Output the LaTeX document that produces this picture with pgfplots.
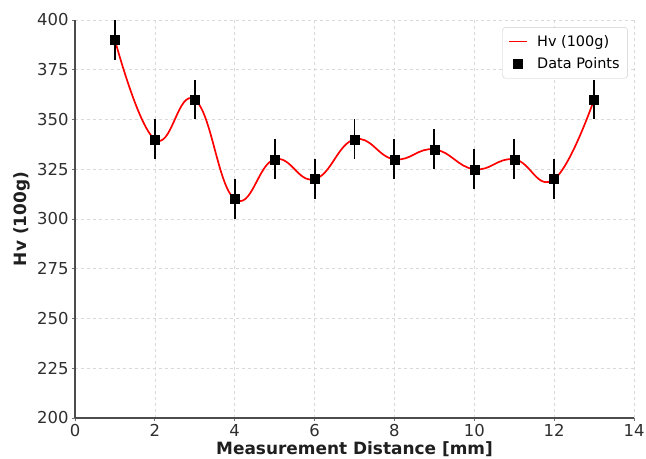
\documentclass[border=0pt]{standalone}
\usepackage{pgfplots}
\pgfplotsset{compat=1.18}
\usepackage{pgfplotstable}
\usepackage{fontspec}
\setmainfont{DejaVu Sans}

\pgfplotstableread{
x  y   err
1  390 10
2  340 10
3  360 10
4  310 10
5  330 10
6  320 10
7  340 10
8  330 10
9  335 10
10 325 10
11 330 10
12 320 10
13 360 10
}\hvdata

\begin{document}
\begin{tikzpicture}
\begin{axis}[
  scale only axis,
  width=559bp, height=398bp,
  xmin=0, xmax=14, ymin=200, ymax=400,
  xtick={0,2,...,14}, ytick={200,225,...,400},
  axis lines=left,
  axis line style={-, draw=black!70, line width=1.3pt},
  tick style={draw=black!55, line width=0.8pt},
  tick align=outside, major tick length=3bp,
  grid=major,
  grid style={dashed, black!15, line width=0.6pt},
  /pgf/number format/assume math mode=true,
  ticklabel style={font=\fontsize{16.5}{16.5}\selectfont, text=black!82},
  xlabel={Measurement Distance [mm]},
  ylabel={Hv (100g)},
  label style={font=\fontsize{17}{17}\selectfont\bfseries, text=black!88},
  xlabel style={at={(axis description cs:0.5,-0.079)}, anchor=center},
  ylabel style={at={(axis description cs:-0.0957,0.5)}, anchor=center},
  legend style={at={(0.989,0.982)}, anchor=north east,
    draw=black!20, rounded corners=3bp, fill=white,
    font=\fontsize{14.5}{14.5}\selectfont,
    inner xsep=6bp, inner ysep=6bp, row sep=6bp, column sep=8bp},
  legend cell align=left,
]
% smooth fit through the hardness readings
\addplot[red, line width=1.7pt, smooth, tension=0.75,
  legend image post style={draw=red, line width=1.7pt}]
  table[x=x, y=y] {\hvdata};
\addlegendentry{Hv (100g)}

% readings with their +/- 10 scatter
\addplot[only marks, black, mark=square*, mark size=4.5bp,
  error bars/.cd, y dir=both, y explicit,
  error bar style={line width=2pt, black}, error mark=none]
  table[x=x, y=y, y error=err] {\hvdata};
\addlegendentry{Data Points}
\end{axis}
\pgfresetboundingbox
\path (-75bp,-41bp) rectangle (571bp,418bp);
\end{tikzpicture}
\end{document}
